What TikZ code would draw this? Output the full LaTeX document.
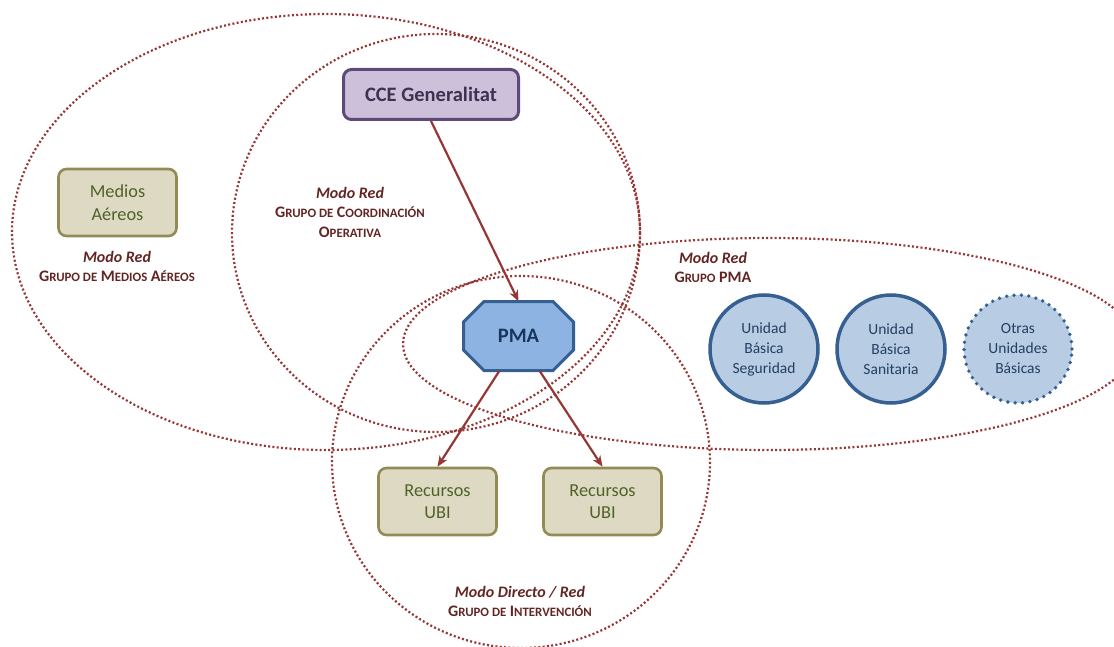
\documentclass[tikz,border=0pt]{standalone}
\usepackage{fontspec}
\setmainfont{Carlito}
\usetikzlibrary{arrows.meta,calc}
\definecolor{grpred}{HTML}{943634}
\definecolor{lblred}{HTML}{632523}
\definecolor{arrred}{HTML}{953735}
\definecolor{cceFill}{HTML}{CCC0DA}
\definecolor{cceLine}{HTML}{5F497A}
\definecolor{cceText}{HTML}{3F3151}
\definecolor{oliveFill}{HTML}{DDD9C3}
\definecolor{oliveLine}{HTML}{948A54}
\definecolor{oliveText}{HTML}{4F6228}
\definecolor{pmaFill}{HTML}{8DB3E2}
\definecolor{blueLine}{HTML}{366092}
\definecolor{blueText}{HTML}{17365D}
\definecolor{unitFill}{HTML}{B8CCE4}
\definecolor{unitText}{HTML}{244061}
\newcommand\scs{\fontsize{12.8}{19}\selectfont}
\begin{document}
\begin{tikzpicture}[x=1pt,y=-1pt,
  grp/.style={draw=grpred, line width=2.2pt, dash pattern=on 2pt off 2.3pt},
  ccebox/.style={draw=cceLine, fill=cceFill, line width=3pt, rounded corners=8pt,
     minimum width=175pt, minimum height=50pt, text=cceText,
     font=\fontsize{20.5}{24}\selectfont\bfseries},
  olivebox/.style={draw=oliveLine, fill=oliveFill, line width=2.6pt, rounded corners=8pt,
     minimum width=118pt, minimum height=67pt, text=oliveText, align=center,
     font=\fontsize{18.3}{22.5}\selectfont},
  unit/.style={circle, fill=unitFill, minimum size=108pt, text=unitText, align=center,
     font=\fontsize{15.5}{20}\selectfont},
  solidunit/.style={unit, draw=blueLine, line width=3.5pt},
  dotunit/.style={unit, draw=blueLine, line width=3.8pt, line cap=round, dash pattern=on 0pt off 7.4pt},
  pmashape/.style={draw=blueLine, fill=pmaFill, line width=3pt, line join=miter},
  modo/.style={anchor=base, text=lblred, font=\fontsize{16}{19}\selectfont\bfseries\itshape},
  grupo/.style={anchor=base, text=lblred, font=\fontsize{16}{19}\selectfont\bfseries},
  arr/.style={draw=arrred, line width=2.2pt, -{Stealth[length=11pt,width=9pt]}}
]
\useasboundingbox (0,0) rectangle (1114,647);
\begin{scope}
\clip (0,0) rectangle (1114,647);
\draw[grp] (326,232) ellipse [x radius=314, y radius=218];
\draw[grp] (436,233) ellipse [x radius=204, y radius=199];
\draw[grp] (521,462) ellipse [x radius=189, y radius=186];
\draw[grp] (769,344) ellipse [x radius=366, y radius=106];
\end{scope}

% nodes
\node[ccebox] (cce) at (431,94.5) {CCE Generalitat};
\node[olivebox] (medios) at (117.5,202.5) {Medios\\Aéreos};
\node[olivebox] (ubi1) at (437.5,501.5) {Recursos\\UBI};
\node[olivebox] (ubi2) at (602.5,501.5) {Recursos\\UBI};

\path[pmashape] (484,301.5) -- (553,301.5) -- (573.5,322) -- (573.5,350) -- (553,370.5)
   -- (484,370.5) -- (463.5,350) -- (463.5,322) -- cycle;
\node[minimum width=110pt, minimum height=69pt, inner sep=0pt, text=blueText,
   font=\fontsize{20.5}{24}\selectfont\bfseries] (pma) at (518.5,336) {PMA};

\node[solidunit] (ubs) at (764,349) {Unidad\\Básica\\Seguridad};
\node[solidunit] (ubsan) at (891,349) {Unidad\\Básica\\Sanitaria};
\node[dotunit] (otras) at (1018,349) {Otras\\Unidades\\Básicas};

% labels
\node[modo] (l1a) at (117,262) {Modo Red};
\node[grupo] (l1b) at (117,281) {G{\scs RUPO DE} M{\scs EDIOS} A{\scs ÉREOS}};
\node[modo] (l2a) at (350,199) {Modo Red};
\node[grupo] (l2b) at (350,218) {G{\scs RUPO DE} C{\scs OORDINACIÓN}};
\node[grupo] (l2c) at (350,237.5) {O{\scs PERATIVA}};
\node[modo] (l3a) at (713,264) {Modo Red};
\node[grupo] (l3b) at (713,283) {G{\scs RUPO} PMA};
\node[modo] (l4a) at (520,597) {Modo Directo / Red};
\node[grupo] (l4b) at (520,616) {G{\scs RUPO DE} I{\scs NTERVENCIÓN}};

% connectors
\draw[arr] (cce.south) -- (pma.north);
\draw[arr] ($(pma.south)+(-19,0)$) -- (ubi1.north);
\draw[arr] ($(pma.south)+(21,0)$) -- (ubi2.north);
\end{tikzpicture}
\end{document}
